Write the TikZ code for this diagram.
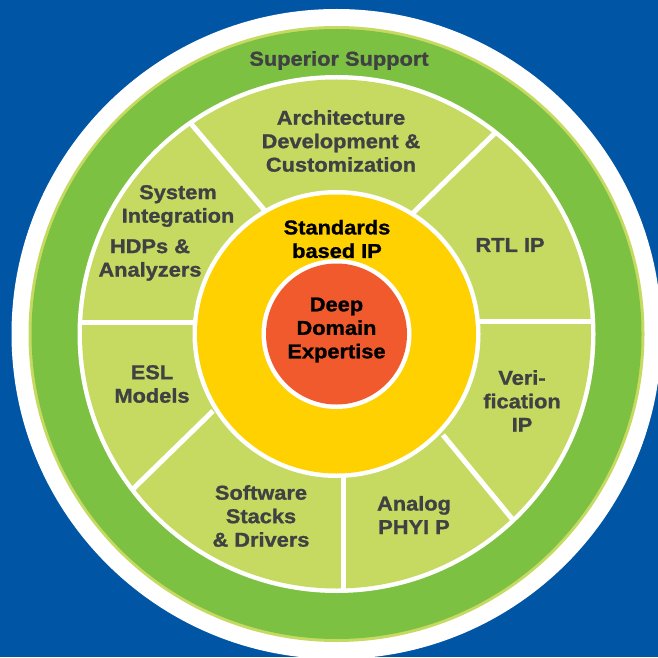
\documentclass[tikz,border=0pt]{standalone}
\usepackage{fontspec}
\setmainfont{Liberation Sans}[FakeStretch=1.09, BoldFeatures={FakeBold=1.2}]
\definecolor{bgblue}{HTML}{0055A4}
\definecolor{ringgreen}{HTML}{7CC142}
\definecolor{segmentgreen}{HTML}{C6DA62}
\definecolor{coreyellow}{HTML}{FFD100}
\definecolor{coreorange}{HTML}{F15A2D}
\definecolor{labelgray}{HTML}{404142}
\tikzset{
  lbl/.style = {text = labelgray, align = center, font = \fontsize{20}{23.5}\selectfont\bfseries},
  lblblack/.style = {lbl, text = black},
  divider/.style = {draw = white, line width = 5}
}

\begin{document}
\begin{tikzpicture}[x = 1pt, y = 1pt]
\useasboundingbox (0, 0) rectangle (658, 657);
\fill[bgblue] (0, 0) rectangle (658, 657);
\begin{scope}[shift = {(336.5, 323)}]
\clip (-336.5, -323) rectangle (321.5, 334);
\fill[white] (0, 0) circle (325);
\fill[segmentgreen] (0, 0) circle (308);
\fill[ringgreen] (0, 0) circle (305);
\fill[white] (0, 0) circle (259);
\fill[segmentgreen] (0, 0) circle (254.5);
\begin{scope}
\clip (0, 0) circle (256);
\draw[divider] (-70.5, 122) -- (-158, 225);
\draw[divider] (76.5, 121) -- (172.5, 214.6);
\draw[divider] (120, 13) -- (270, 13);
\draw[divider] (-120, 12) -- (-270, 12);
\draw[divider] (106.5, -101) -- (190.5, -203);
\draw[divider] (6.5, -120) -- (6.5, -270);
\draw[divider] (-123.5, -77) -- (-220.7, -171.8);
\end{scope}
\fill[white] (0, 0) circle (144);
\fill[coreyellow] (0, 0) circle (139.5);
\fill[white] (0, 0) circle (75);
\fill[coreorange] (0, 0) circle (70.5);
\end{scope}
\begin{scope}[shift = {(336.5, 323)}]
\node[lbl] (support) at (2.5, 273.5) {Superior Support};
\node[lbl] (arch) at (4.5, 193) {Architecture\\Development \&\\Customization};
\node[lbl] (sysint) at (-158.5, 128) {System\\Integration};
\node[lbl] (hdps) at (-186.5, 74) {HDPs \&\\Analyzers};
\node[lbl] (rtl) at (173.5, 89) {RTL IP};
\node[lbl] (verif) at (185.5, -67) {Veri-\\fication\\IP};
\node[lbl] (analog) at (77.5, -181) {Analog\\PHYI P};
\node[lbl] (software) at (-75.5, -182) {Software\\Stacks\\\& Drivers};
\node[lbl] (esl) at (-184.5, -50) {ESL\\Models};
\node[lblblack] (standards) at (0.5, 95) {Standards\\based IP};
\node[lblblack] (domain) at (0, 4) {Deep\\Domain\\Expertise};
\end{scope}
\end{tikzpicture}
\end{document}
